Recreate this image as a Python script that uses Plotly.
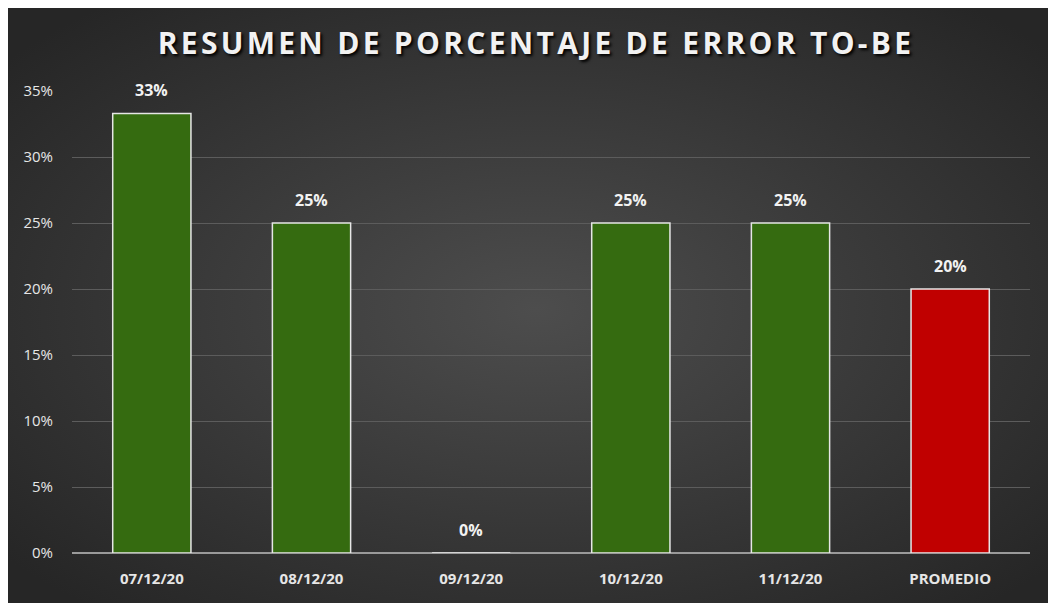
import plotly.graph_objects as go
import base64

categories = ["07/12/20", "08/12/20", "09/12/20", "10/12/20", "11/12/20", "PROMEDIO"]
values = [0.333, 0.25, 0.0, 0.25, 0.25, 0.20]
labels = ["33%", "25%", "0%", "25%", "25%", "20%"]
colors = ["#356B10", "#356B10", "#356B10", "#356B10", "#356B10", "#C00000"]
ytick_vals = [0, 0.05, 0.10, 0.15, 0.20, 0.25, 0.30, 0.35]
ytick_text = ["0%", "5%", "10%", "15%", "20%", "25%", "30%", "35%"]

svg = ('<svg xmlns="http://www.w3.org/2000/svg" width="1056" height="603">'
       '<defs><radialGradient id="g" cx="50%" cy="50%" r="65%">'
       '<stop offset="0%" stop-color="#4d4d4d"/><stop offset="100%" stop-color="#262626"/>'
       '</radialGradient></defs><rect width="1056" height="603" fill="url(#g)"/></svg>')
bg = "data:image/svg+xml;base64," + base64.b64encode(svg.encode()).decode()

L, R, T, B = 64, 34, 83, 58
PW, PH = 1056 - L - R, 603 - T - B

fig = go.Figure()
fig.add_trace(go.Bar(
    x=categories, y=values,
    marker=dict(color=colors, line=dict(color="#e6e6e6", width=1.5)),
    width=0.49, hoverinfo="skip",
))
for c, v, t in zip(categories, values, labels):
    fig.add_annotation(x=c, y=v, text=t, showarrow=False, yanchor="bottom", yshift=10,
                       font=dict(family="Open Sans", size=16, color="#f2f2f2", weight="bold"))

fig.update_layout(
    width=1056, height=603,
    margin=dict(l=L, r=R, t=T, b=B),
    paper_bgcolor="#363636", plot_bgcolor="rgba(0,0,0,0)",
    images=[dict(source=bg, xref="paper", yref="paper", x=-L / PW, y=1 + T / PH,
                 sizex=1056 / PW, sizey=603 / PH, xanchor="left", yanchor="top",
                 sizing="stretch", layer="below")],
    title=dict(text='<span style="letter-spacing:3.3px">RESUMEN DE PORCENTAJE DE ERROR TO-BE</span>',
               x=0.5, xanchor="center", y=1 - 35 / 603, yanchor="middle",
               font=dict(family="Open Sans", size=30, color="#f2f2f2", weight="bold",
                         shadow="2px 2px 3px #000000")),
    showlegend=False,
    bargap=0.51,
    xaxis=dict(showgrid=False, showline=False, ticks="", ticklabelstandoff=15,
               tickfont=dict(family="Open Sans", size=15, color="#e6e6e6", weight="bold"),
               fixedrange=True),
    yaxis=dict(range=[0, 0.35], tickvals=ytick_vals, ticktext=ytick_text,
               showgrid=True, gridcolor="#5c5c5c", gridwidth=1,
               zeroline=True, zerolinecolor="#9a9a9a", zerolinewidth=1.5,
               tickfont=dict(family="Open Sans", size=15, color="#e6e6e6"),
               ticks="", ticklabelstandoff=18, fixedrange=True),
)

fig.write_html("out.html")
